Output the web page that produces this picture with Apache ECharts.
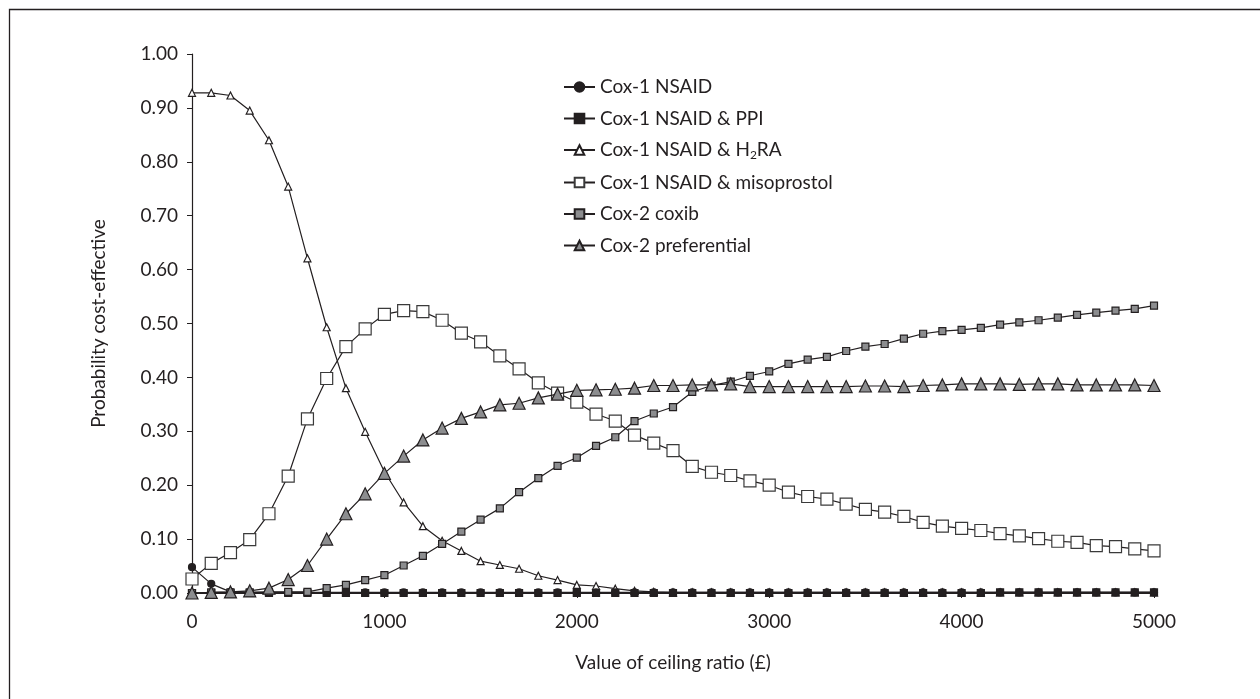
<!DOCTYPE html>
<html>
<head>
<meta charset="utf-8">
<script src="https://cdn.jsdelivr.net/npm/echarts@6/dist/echarts.min.js"></script>
<style>
  html, body { margin: 0; padding: 0; background: #fff; }
  #main { width: 1260px; height: 699px; }
</style>
</head>
<body>
<div id="main"></div>
<script>
// ceiling ratio (£)
var ceilingRatio = [0, 100, 200, 300, 400, 500, 600, 700, 800, 900,
  1000, 1100, 1200, 1300, 1400, 1500, 1600, 1700, 1800, 1900,
  2000, 2100, 2200, 2300, 2400, 2500, 2600, 2700, 2800, 2900,
  3000, 3100, 3200, 3300, 3400, 3500, 3600, 3700, 3800, 3900,
  4000, 4100, 4200, 4300, 4400, 4500, 4600, 4700, 4800, 4900, 5000];

var yTicks = [0, 0.1, 0.2, 0.3, 0.4, 0.5, 0.6, 0.7, 0.8, 0.9, 1.0];

var cox1Nsaid = [0.048, 0.017, 0.002, 0.001, 0.001, 0.001, 0.001, 0.001, 0.001, 0.001,
  0.001, 0.001, 0.001, 0.001, 0.001, 0.001, 0.001, 0.001, 0.001, 0.001,
  0.001, 0.001, 0.001, 0.001, 0.001, 0.001, 0.001, 0.001, 0.001, 0.001,
  0.001, 0.001, 0.001, 0.001, 0.001, 0.001, 0.001, 0.001, 0.001, 0.001,
  0.001, 0.001, 0.001, 0.001, 0.001, 0.001, 0.001, 0.001, 0.001, 0.001, 0.001];

var cox1Ppi = [0.000, 0.000, 0.000, 0.000, 0.000, 0.000, 0.000, 0.000, 0.000, 0.000,
  0.000, 0.000, 0.000, 0.000, 0.000, 0.000, 0.000, 0.000, 0.000, 0.000,
  0.000, 0.000, 0.000, 0.000, 0.000, 0.000, 0.000, 0.000, 0.000, 0.000,
  0.000, 0.000, 0.000, 0.000, 0.000, 0.000, 0.000, 0.000, 0.000, 0.000,
  0.000, 0.000, 0.001, 0.001, 0.001, 0.001, 0.001, 0.001, 0.001, 0.001, 0.001];

var cox1H2ra = [0.928, 0.928, 0.923, 0.895, 0.840, 0.754, 0.621, 0.493, 0.380, 0.299,
  0.225, 0.168, 0.124, 0.097, 0.078, 0.059, 0.052, 0.045, 0.032, 0.024,
  0.015, 0.013, 0.008, 0.004, 0.002, 0.001, 0.001, 0.001, 0.001, 0.001,
  0.001, 0.001, 0.001, 0.001, 0.001, 0.001, 0.001, 0.001, 0.001, 0.001,
  0.001, 0.001, 0.001, 0.001, 0.001, 0.001, 0.001, 0.001, 0.001, 0.001, 0.001];

var cox1Miso = [0.026, 0.055, 0.075, 0.099, 0.147, 0.217, 0.323, 0.398, 0.457, 0.490,
  0.517, 0.524, 0.522, 0.506, 0.482, 0.466, 0.440, 0.416, 0.390, 0.371,
  0.354, 0.332, 0.319, 0.293, 0.278, 0.264, 0.235, 0.224, 0.218, 0.208,
  0.200, 0.187, 0.179, 0.174, 0.165, 0.155, 0.150, 0.142, 0.131, 0.124,
  0.120, 0.116, 0.110, 0.106, 0.101, 0.096, 0.094, 0.088, 0.086, 0.082, 0.078];

var cox2Coxib = [0.000, 0.001, 0.001, 0.001, 0.002, 0.002, 0.002, 0.009, 0.015, 0.024,
  0.033, 0.051, 0.069, 0.091, 0.114, 0.136, 0.157, 0.187, 0.213, 0.236,
  0.251, 0.273, 0.289, 0.319, 0.333, 0.345, 0.373, 0.385, 0.392, 0.403,
  0.411, 0.425, 0.433, 0.438, 0.449, 0.457, 0.462, 0.472, 0.481, 0.486,
  0.488, 0.492, 0.498, 0.502, 0.506, 0.511, 0.516, 0.520, 0.524, 0.527, 0.533];

var cox2Pref = [0.000, 0.001, 0.002, 0.004, 0.009, 0.025, 0.051, 0.100, 0.147, 0.184,
  0.222, 0.254, 0.284, 0.306, 0.324, 0.336, 0.349, 0.352, 0.362, 0.369,
  0.376, 0.377, 0.378, 0.380, 0.385, 0.385, 0.386, 0.386, 0.388, 0.383,
  0.383, 0.383, 0.383, 0.383, 0.383, 0.384, 0.384, 0.383, 0.385, 0.386,
  0.388, 0.388, 0.388, 0.387, 0.388, 0.388, 0.386, 0.386, 0.386, 0.386, 0.385];

var seriesNames = ['Cox-1 NSAID', 'Cox-1 NSAID & PPI', 'Cox-1 NSAID & H2RA',
  'Cox-1 NSAID & misoprostol', 'Cox-2 coxib', 'Cox-2 preferential'];

var ink = '#231f20';
var grey = '#8c8d8f';
var font = 'Lato, "Open Sans", sans-serif';

function pairs(vals) {
  var out = [];
  for (var i = 0; i < ceilingRatio.length; i++) {
    out.push([ceilingRatio[i], vals[i]]);
  }
  return out;
}

function lineSeries(name, vals, symbol, size, fill, border, z) {
  return {
    name: name,
    type: 'line',
    z: z,
    data: pairs(vals),
    symbol: symbol,
    symbolSize: size,
    showAllSymbol: true,
    lineStyle: { color: ink, width: 1.2 },
    itemStyle: { color: fill, borderColor: border, borderWidth: 1.2 },
    emphasis: { disabled: true },
    animation: false
  };
}

var chart = echarts.init(document.getElementById('main'));

var option = {
  backgroundColor: '#fff',
  textStyle: { fontFamily: font, color: ink },
  graphic: [{
    type: 'rect',
    shape: { x: 9.5, y: 9.5, width: 1300, height: 750 },
    style: { fill: 'none', stroke: ink, lineWidth: 1.3 },
    silent: true
  }],
  grid: { left: 192, right: 106, top: 54, bottom: 106 },
  legend: {
    orient: 'vertical',
    left: 558,
    top: 72,
    itemWidth: 31,
    itemHeight: 12,
    itemGap: 11.5,
    data: seriesNames,
    textStyle: {
      fontFamily: font, fontSize: 19, color: ink, lineHeight: 20,
      rich: {
        sub: { fontFamily: font, fontSize: 12, color: ink, padding: [10, 0, 0, 0] }
      }
    },
    formatter: function (name) {
      if (name === 'Cox-1 NSAID & H2RA') return 'Cox-1 NSAID & H{sub|2}RA';
      return name;
    }
  },
  xAxis: {
    type: 'value',
    min: 0,
    max: 5000,
    interval: 1000,
    name: 'Value of ceiling ratio (£)',
    nameLocation: 'middle',
    nameGap: 60,
    nameTextStyle: { fontFamily: font, fontSize: 19, color: ink },
    axisLine: { show: true, onZero: false, lineStyle: { color: ink, width: 1.2 } },
    axisTick: { show: true, length: 5, lineStyle: { color: ink } },
    axisLabel: {
      fontFamily: font, fontSize: 19, color: ink, margin: 19,
      formatter: function (v) { return String(v); }
    },
    splitLine: { show: false }
  },
  yAxis: {
    type: 'value',
    min: yTicks[0],
    max: yTicks[yTicks.length - 1],
    interval: 0.1,
    name: 'Probability cost-effective',
    nameLocation: 'middle',
    nameGap: 84,
    nameTextStyle: { fontFamily: font, fontSize: 19, color: ink },
    axisLine: { show: true, lineStyle: { color: ink, width: 1.2 } },
    axisTick: { show: true, length: 5, lineStyle: { color: ink } },
    axisLabel: {
      fontFamily: font, fontSize: 19, color: ink, margin: 14,
      formatter: function (v) { return v.toFixed(2); }
    },
    splitLine: { show: false }
  },
  series: [
    lineSeries(seriesNames[0], cox1Nsaid, 'circle', 7, ink, ink, 3),
    lineSeries(seriesNames[1], cox1Ppi, 'rect', 7, ink, ink, 3),
    lineSeries(seriesNames[2], cox1H2ra, 'triangle', 7, '#fff', ink, 2),
    lineSeries(seriesNames[3], cox1Miso, 'rect', 12, '#fff', '#3a3a3a', 2),
    lineSeries(seriesNames[4], cox2Coxib, 'rect', 7, grey, ink, 4),
    lineSeries(seriesNames[5], cox2Pref, 'triangle', 12, grey, ink, 4)
  ]
};

chart.setOption(option);
</script>
</body>
</html>
